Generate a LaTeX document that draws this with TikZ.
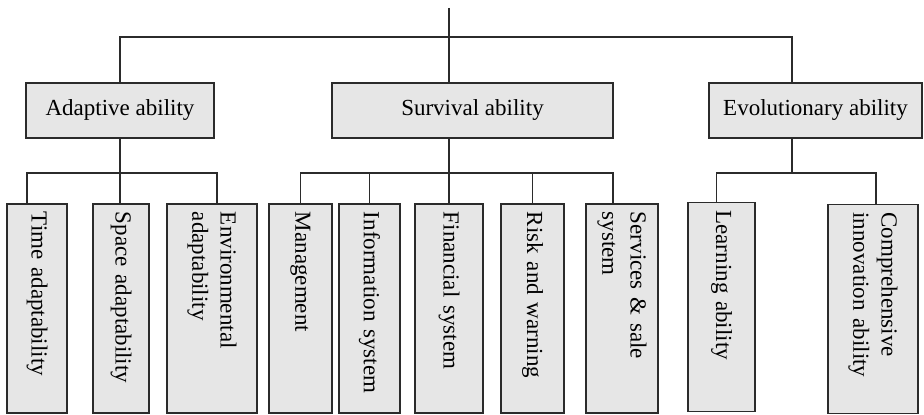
\documentclass[tikz,border=0pt]{standalone}
\usepackage{fontspec}
\setmainfont{Liberation Serif}
\usetikzlibrary{positioning}
\definecolor{AB_LINE}{HTML}{2B2B2B}
\definecolor{AB_FILL}{HTML}{E6E6E6}
\tikzset{
  %% -- top-level ability box --
  ab/main/.style={
    draw=AB_LINE, fill=AB_FILL, line width=0.6pt,
    minimum height=27.5pt, inner sep=0pt
  },
  %% -- rotated indicator box (its west anchor is the top edge) --
  ab/leaf/.style={
    draw=AB_LINE, fill=AB_FILL, line width=0.6pt, rotate=-90,
    text width=96.5pt, inner xsep=4pt, inner ysep=0pt,
    minimum height=#1, align=left
  },
  %% -- tree connector --
  ab/link/.style={line width=0.6pt, color=AB_LINE},
}

\begin{document}
\begin{tikzpicture}[
  every node/.style={font=\fontsize{11.5}{14.2}\selectfont},
  x=0.5pt, y=-0.5pt,
]
\useasboundingbox (0,0) rectangle (924,415);

%% Ability boxes
\node[ab/main, minimum width=94pt]    (ada)  at (120,110.5)   {Adaptive ability};
\node[ab/main, minimum width=140.5pt] (surv) at (472.5,110.5) {Survival ability};
\node[ab/main, minimum width=106.5pt] (evo)  at (815.5,110.5) {Evolutionary ability};

%% Indicator boxes
\node[ab/leaf=30pt]   (time)  at (37,308.5)    {Time adaptability};
\node[ab/leaf=28pt]   (space) at (121,308.5)   {Space adaptability};
\node[ab/leaf=45pt]   (env)   at (212,308.5)   {Environmental\\adaptability};
\node[ab/leaf=31.5pt] (mgmt)  at (300.5,308.5) {Management};
\node[ab/leaf=30.5pt] (info)  at (369.5,308.5) {Information system};
\node[ab/leaf=34pt]   (fin)   at (449,308.5)   {Financial system};
\node[ab/leaf=31.5pt] (risk)  at (532.5,308.5) {Risk and warning};
\node[ab/leaf=36pt]   (serv)  at (622,308.5)   {Services \& sale\\system};
\node[ab/leaf=33.5pt] (learn) at (721.5,307)   {Learning ability};
\node[ab/leaf=45pt]   (comp)  at (873,309)     {Comprehensive\\innovation ability};

%% Branch points
\coordinate (root)    at (449,8);
\coordinate (evostem) at (792,37);
\coordinate (adabar)  at (120,173);
\coordinate (survbar) at (449,173);
\coordinate (evobar)  at (792,173);

%% Top level
\draw[ab/link] (root) -- (root |- surv.north);
\draw[ab/link] (ada.north) |- (evostem) -- (evostem |- evo.north);

%% Adaptive branch
\draw[ab/link] (ada.south) -- (adabar);
\draw[ab/link] ([xshift=-5pt]time.west) |- (adabar) -| ([xshift=2.5pt]env.west);
\draw[ab/link] (adabar) -- (adabar |- space.west);

%% Survival branch
\draw[ab/link] (root |- surv.south) -- (survbar);
\draw[ab/link] (mgmt.west) |- (survbar) -| ([xshift=-4.5pt]serv.west);
\foreach \n in {info, fin, risk}
  \draw[ab/link] (\n.west) -- (\n.west |- survbar);

%% Evolutionary branch
\draw[ab/link] (evostem |- evo.south) -- (evobar);
\draw[ab/link] ([xshift=-2.5pt]learn.west) |- (evobar) -| ([xshift=1.5pt]comp.west);
\end{tikzpicture}
\end{document}
